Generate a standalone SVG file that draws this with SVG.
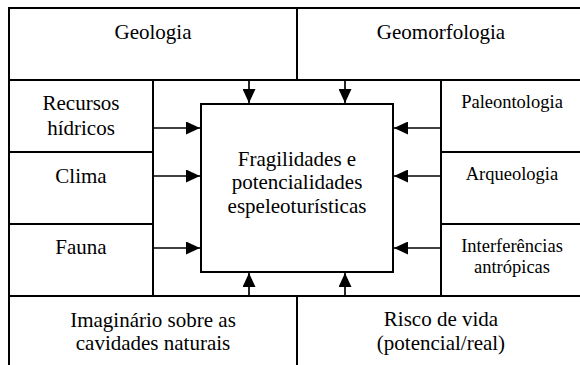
<svg xmlns="http://www.w3.org/2000/svg" width="580" height="365" viewBox="0 0 580 365">
<style>
.box{fill:#fff;stroke:#000;stroke-width:2}
.t{font-family:"Liberation Serif","Times New Roman",serif;font-size:21px;fill:#000;text-anchor:middle}
.s{font-size:18.5px}
.c{stroke:#000;stroke-width:1.7;fill:none}
</style>
<defs>
<marker id="ah" markerUnits="userSpaceOnUse" markerWidth="14" markerHeight="13" refX="14" refY="6.5" orient="auto">
<path d="M0,0 L14,6.5 L0,13 Z" fill="#000"/>
</marker>
</defs>
<rect width="580" height="365" fill="#fff"/>
<g id="geologia"><rect class="box" x="9" y="8" width="288" height="72"/><text class="t" x="153" y="39">Geologia</text></g>
<g id="geomorfologia"><rect class="box" x="297" y="8" width="292" height="72"/><text class="t" x="441" y="39">Geomorfologia</text></g>
<g id="recursos"><rect class="box" x="9" y="80" width="144" height="72"/><text class="t" x="81" y="110">Recursos</text><text class="t" x="81" y="135">hídricos</text></g>
<g id="clima"><rect class="box" x="9" y="152" width="144" height="72"/><text class="t" x="81" y="183">Clima</text></g>
<g id="fauna"><rect class="box" x="9" y="224" width="144" height="72"/><text class="t" x="81" y="254">Fauna</text></g>
<g id="paleontologia"><rect class="box" x="441" y="80" width="148" height="72"/><text class="t s" x="512" y="108">Paleontologia</text></g>
<g id="arqueologia"><rect class="box" x="441" y="152" width="148" height="72"/><text class="t s" x="512" y="180">Arqueologia</text></g>
<g id="interferencias"><rect class="box" x="441" y="224" width="148" height="72"/><text class="t s" x="512" y="252">Interferências</text><text class="t s" x="512" y="273">antrópicas</text></g>
<g id="imaginario"><rect class="box" x="9" y="296" width="288" height="80"/><text class="t" x="153" y="327">Imaginário sobre as</text><text class="t" x="153" y="350">cavidades naturais</text></g>
<g id="risco"><rect class="box" x="297" y="296" width="292" height="80"/><text class="t" x="441" y="326">Risco de vida</text><text class="t" x="441" y="350">(potencial/real)</text></g>
<g id="centro"><rect class="box" x="201" y="104" width="192" height="168"/><text class="t" x="297" y="166">Fragilidades e</text><text class="t" x="297" y="189">potencialidades</text><text class="t" x="297" y="213">espeleoturísticas</text></g>
<g id="connectors" class="c" marker-end="url(#ah)">
<line x1="249" y1="80" x2="249" y2="103"/>
<line x1="345" y1="80" x2="345" y2="103"/>
<line x1="249" y1="296" x2="249" y2="273"/>
<line x1="345" y1="296" x2="345" y2="273"/>
<line x1="153" y1="128" x2="200" y2="128"/>
<line x1="153" y1="176" x2="200" y2="176"/>
<line x1="153" y1="248" x2="200" y2="248"/>
<line x1="441" y1="128" x2="394" y2="128"/>
<line x1="441" y1="176" x2="394" y2="176"/>
<line x1="441" y1="248" x2="394" y2="248"/>
</g>
</svg>
